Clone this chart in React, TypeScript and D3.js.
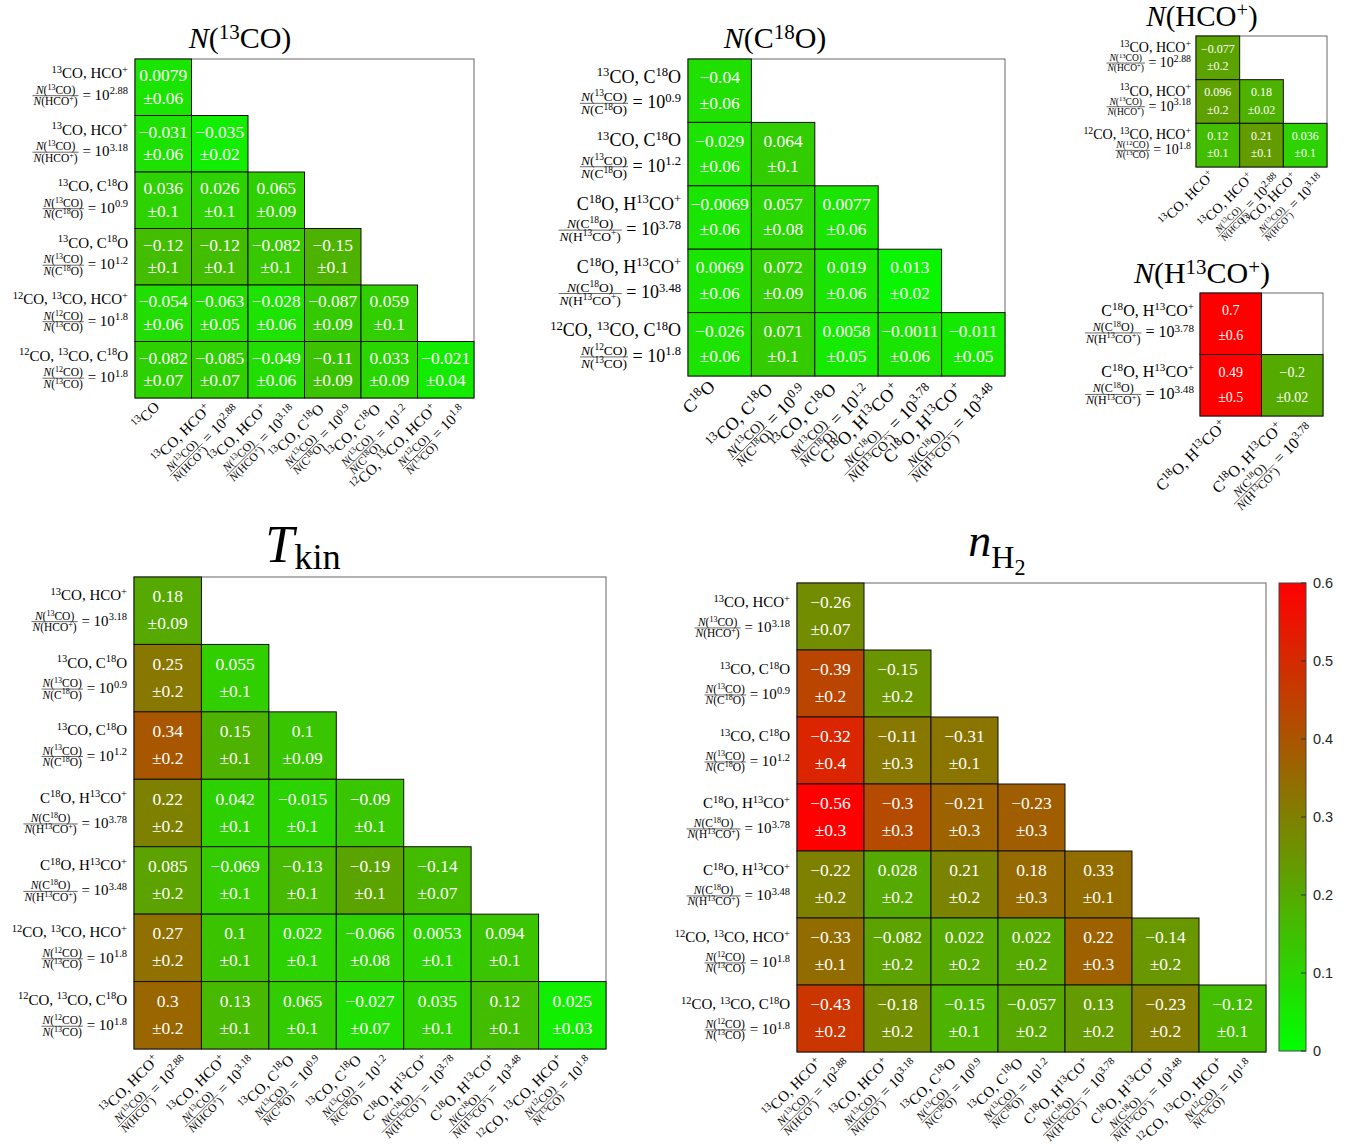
import React, { useEffect, useRef } from "react";
import * as d3 from "d3";

type Lab = { sp: string; num?: string; den?: string; exp?: string };

// ---------- axis labels ----------
const lab13co: Lab = { sp: "^{13}CO" };
const labC18o: Lab = { sp: "C^{18}O" };
const lab13coHco: Lab = { sp: "^{13}CO, HCO^{+}" };
const labC18oH13co: Lab = { sp: "C^{18}O, H^{13}CO^{+}" };
const lab13coHco288: Lab = { sp: "^{13}CO, HCO^{+}", num: "$N$(^{13}CO)", den: "$N$(HCO^{+})", exp: "2.88" };
const lab13coHco318: Lab = { sp: "^{13}CO, HCO^{+}", num: "$N$(^{13}CO)", den: "$N$(HCO^{+})", exp: "3.18" };
const lab13coC18o09: Lab = { sp: "^{13}CO, C^{18}O", num: "$N$(^{13}CO)", den: "$N$(C^{18}O)", exp: "0.9" };
const lab13coC18o12: Lab = { sp: "^{13}CO, C^{18}O", num: "$N$(^{13}CO)", den: "$N$(C^{18}O)", exp: "1.2" };
const labC18oH13co378: Lab = { sp: "C^{18}O, H^{13}CO^{+}", num: "$N$(C^{18}O)", den: "$N$(H^{13}CO^{+})", exp: "3.78" };
const labC18oH13co348: Lab = { sp: "C^{18}O, H^{13}CO^{+}", num: "$N$(C^{18}O)", den: "$N$(H^{13}CO^{+})", exp: "3.48" };
const lab12coHco18: Lab = { sp: "^{12}CO, ^{13}CO, HCO^{+}", num: "$N$(^{12}CO)", den: "$N$(^{13}CO)", exp: "1.8" };
const lab12coC18o18: Lab = { sp: "^{12}CO, ^{13}CO, C^{18}O", num: "$N$(^{12}CO)", den: "$N$(^{13}CO)", exp: "1.8" };

// ---------- N(13CO) ----------
const n13coRows = [lab13coHco288, lab13coHco318, lab13coC18o09, lab13coC18o12, lab12coHco18, lab12coC18o18];
const n13coCols = [lab13co, lab13coHco288, lab13coHco318, lab13coC18o09, lab13coC18o12, lab12coHco18];
const n13coValues = [
  [0.0079],
  [-0.031, -0.035],
  [0.036, 0.026, 0.065],
  [-0.12, -0.12, -0.082, -0.15],
  [-0.054, -0.063, -0.028, -0.087, 0.059],
  [-0.082, -0.085, -0.049, -0.11, 0.033, -0.021],
];
const n13coErrors = [
  [0.06],
  [0.06, 0.02],
  [0.1, 0.1, 0.09],
  [0.1, 0.1, 0.1, 0.1],
  [0.06, 0.05, 0.06, 0.09, 0.1],
  [0.07, 0.07, 0.06, 0.09, 0.09, 0.04],
];

// ---------- N(C18O) ----------
const nc18oRows = [lab13coC18o09, lab13coC18o12, labC18oH13co378, labC18oH13co348, lab12coC18o18];
const nc18oCols = [labC18o, lab13coC18o09, lab13coC18o12, labC18oH13co378, labC18oH13co348];
const nc18oValues = [
  [-0.04],
  [-0.029, 0.064],
  [-0.0069, 0.057, 0.0077],
  [0.0069, 0.072, 0.019, 0.013],
  [-0.026, 0.071, 0.0058, -0.0011, -0.011],
];
const nc18oErrors = [
  [0.06],
  [0.06, 0.1],
  [0.06, 0.08, 0.06],
  [0.06, 0.09, 0.06, 0.02],
  [0.06, 0.1, 0.05, 0.06, 0.05],
];

// ---------- N(HCO+) ----------
const nhcoRows = [lab13coHco288, lab13coHco318, lab12coHco18];
const nhcoCols = [lab13coHco, lab13coHco288, lab13coHco318];
const nhcoValues = [[-0.077], [0.096, 0.18], [0.12, 0.21, 0.036]];
const nhcoErrors = [[0.2], [0.2, 0.02], [0.1, 0.1, 0.1]];

// ---------- N(H13CO+) ----------
const nh13coRows = [labC18oH13co378, labC18oH13co348];
const nh13coCols = [labC18oH13co, labC18oH13co378];
const nh13coValues = [[0.7], [0.49, -0.2]];
const nh13coErrors = [[0.6], [0.5, 0.02]];

// ---------- Tkin & nH2 ----------
const physRows = [lab13coHco318, lab13coC18o09, lab13coC18o12, labC18oH13co378, labC18oH13co348, lab12coHco18, lab12coC18o18];
const physCols = [lab13coHco288, lab13coHco318, lab13coC18o09, lab13coC18o12, labC18oH13co378, labC18oH13co348, lab12coHco18];
const tkinValues = [
  [0.18],
  [0.25, 0.055],
  [0.34, 0.15, 0.1],
  [0.22, 0.042, -0.015, -0.09],
  [0.085, -0.069, -0.13, -0.19, -0.14],
  [0.27, 0.1, 0.022, -0.066, 0.0053, 0.094],
  [0.3, 0.13, 0.065, -0.027, 0.035, 0.12, 0.025],
];
const tkinErrors = [
  [0.09],
  [0.2, 0.1],
  [0.2, 0.1, 0.09],
  [0.2, 0.1, 0.1, 0.1],
  [0.2, 0.1, 0.1, 0.1, 0.07],
  [0.2, 0.1, 0.1, 0.08, 0.1, 0.1],
  [0.2, 0.1, 0.1, 0.07, 0.1, 0.1, 0.03],
];
const nh2Values = [
  [-0.26],
  [-0.39, -0.15],
  [-0.32, -0.11, -0.31],
  [-0.56, -0.3, -0.21, -0.23],
  [-0.22, 0.028, 0.21, 0.18, 0.33],
  [-0.33, -0.082, 0.022, 0.022, 0.22, -0.14],
  [-0.43, -0.18, -0.15, -0.057, 0.13, -0.23, -0.12],
];
const nh2Errors = [
  [0.07],
  [0.2, 0.2],
  [0.4, 0.3, 0.1],
  [0.3, 0.3, 0.3, 0.3],
  [0.2, 0.2, 0.2, 0.3, 0.1],
  [0.1, 0.2, 0.2, 0.2, 0.3, 0.2],
  [0.2, 0.2, 0.1, 0.2, 0.2, 0.2, 0.1],
];

const colorbarTicks = [0, 0.1, 0.2, 0.3, 0.4, 0.5, 0.6];

// ---------- rendering helpers ----------
const SERIF = "'Liberation Serif', 'Times New Roman', serif";
const SANS = "'Liberation Sans', Arial, Helvetica, sans-serif";

const color = d3
  .scaleLinear<string>()
  .domain([0, 0.6])
  .range(["#00ff00", "#ff0000"])
  .interpolate(d3.interpolateRgb)
  .clamp(true);

type Seg = { t: string; s: number; it: boolean };
function parse(m: string): Seg[] {
  const out: Seg[] = [];
  let it = false;
  let buf = "";
  let i = 0;
  const flush = () => {
    if (buf) out.push({ t: buf, s: 0, it });
    buf = "";
  };
  while (i < m.length) {
    const c = m[i];
    if (c === "$") {
      flush();
      it = !it;
      i++;
      continue;
    }
    if ((c === "^" || c === "_") && m[i + 1] === "{") {
      flush();
      const j = m.indexOf("}", i + 2);
      out.push({ t: m.slice(i + 2, j), s: c === "^" ? 1 : -1, it: false });
      i = j + 1;
      continue;
    }
    buf += c;
    i++;
  }
  flush();
  return out;
}

function rich(t: any, markup: string, fs: number, supK = 0.36, subK = 0.2) {
  let cur = 0;
  t.style("white-space", "pre");
  for (const sg of parse(markup)) {
    const target = sg.s === 1 ? -supK * fs : sg.s === -1 ? subK * fs : 0;
    const ts = t.append("tspan").attr("font-size", sg.s ? fs * 0.7 : fs).text(sg.t);
    if (target !== cur) ts.attr("dy", target - cur);
    if (sg.it) ts.attr("font-style", "italic");
    cur = target;
  }
}

type Panel = {
  rows: Lab[];
  cols: Lab[];
  vals: number[][];
  errs: number[][];
  title: string;
  x0: number;
  y0: number;
  size: number;
  tx: number;
  ty: number;
  tfs: number;
  fs: number;
  fsS: number;
  fsV: number;
  l1: number;
  l2: number;
  gap: number;
  tsub?: number;
  custom?: boolean;
};

// draws the fraction line "N(a)/N(b) = 10^x" with its left edge at 0, baseline at 0; returns width
function fracLine(g: any, lab: Lab, fs: number, fsS: number): number {
  const num = g.append("text").attr("font-size", fsS).attr("text-anchor", "middle");
  rich(num, lab.num!, fsS);
  const den = g.append("text").attr("font-size", fsS).attr("text-anchor", "middle");
  rich(den, lab.den!, fsS);
  const wn = num.node().getComputedTextLength();
  const wd = den.node().getComputedTextLength();
  const fw = Math.max(wn, wd) + 2;
  const ax = 0.27 * fs;
  num.attr("x", fw / 2).attr("y", -ax - 2);
  den.attr("x", fw / 2).attr("y", -ax + fsS * 0.78 + 0.5);
  g.append("line")
    .attr("x1", 0)
    .attr("x2", fw)
    .attr("y1", -ax)
    .attr("y2", -ax)
    .attr("stroke", "#000")
    .attr("stroke-width", 0.6);
  const eqX = fw + 0.25 * fs;
  const eq = g.append("text").attr("x", eqX).attr("y", 0).attr("font-size", fs);
  rich(eq, "= 10^{" + lab.exp + "}", fs);
  return eqX + eq.node().getComputedTextLength();
}

function drawPanel(svg: any, p: Panel) {
  const n = p.rows.length;
  const idx = d3.range(n);
  const x = d3.scaleBand<number>().domain(idx).range([p.x0, p.x0 + p.size]);
  const y = d3.scaleBand<number>().domain(idx).range([p.y0, p.y0 + p.size]);
  const cs = x.bandwidth();
  const g = svg.append("g").attr("font-family", SERIF);

  g.append("rect")
    .attr("x", p.x0)
    .attr("y", p.y0)
    .attr("width", p.size)
    .attr("height", p.size)
    .attr("fill", "#fff")
    .attr("stroke", "#666")
    .attr("stroke-width", 1);

  p.vals.forEach((row, i) =>
    row.forEach((v, j) => {
      const e = p.errs[i][j];
      const cx = x(j)!;
      const cy = y(i)!;
      g.append("rect")
        .attr("x", cx)
        .attr("y", cy)
        .attr("width", cs)
        .attr("height", cs)
        .attr("fill", color(Math.hypot(v, e)))
        .attr("stroke", "#111")
        .attr("stroke-width", 1);
      g.append("text")
        .attr("x", cx + cs / 2)
        .attr("y", cy + 0.29 * cs + 0.33 * p.fsV)
        .attr("text-anchor", "middle")
        .attr("font-size", p.fsV)
        .attr("fill", "#fff")
        .text((v < 0 ? "\u2212" : "") + String(Math.abs(v)));
      g.append("text")
        .attr("x", cx + cs / 2)
        .attr("y", cy + 0.69 * cs + 0.33 * p.fsV)
        .attr("text-anchor", "middle")
        .attr("font-size", p.fsV)
        .attr("fill", "#fff")
        .text("\u00b1" + String(e));
    })
  );

  // row labels
  p.rows.forEach((lab, i) => {
    const cy = y(i)! + cs / 2;
    const t = g
      .append("text")
      .attr("x", p.x0 - p.gap)
      .attr("y", cy + p.l1)
      .attr("text-anchor", "end")
      .attr("font-size", p.fs);
    rich(t, lab.sp, p.fs);
    const lg = g.append("g");
    const w = fracLine(lg, lab, p.fs, p.fsS);
    lg.attr("transform", `translate(${p.x0 - p.gap - w},${cy + p.l2})`);
  });

  // column labels (rotated)
  const k = p.fs / 15;
  const bottom = p.y0 + p.size;
  p.cols.forEach((lab, j) => {
    const cx = x(j)! + cs / 2;
    const cg = g.append("g").attr("transform", `translate(${cx},${bottom}) rotate(-45)`);
    if (!lab.num) {
      const t = cg
        .append("text")
        .attr("x", -9 * k)
        .attr("y", 5 * k)
        .attr("text-anchor", "end")
        .attr("font-size", p.fs);
      rich(t, lab.sp, p.fs);
    } else {
      const t = cg
        .append("text")
        .attr("x", -14 * k)
        .attr("y", 3 * k)
        .attr("text-anchor", "end")
        .attr("font-size", p.fs);
      rich(t, lab.sp, p.fs);
      const lg = cg.append("g");
      const w = fracLine(lg, lab, p.fs, p.fsS);
      lg.attr("transform", `translate(${5 * k - w},${24 * k})`);
    }
  });

  // title
  if (p.custom) {
    const t = g
      .append("text")
      .attr("x", p.tx)
      .attr("y", p.ty)
      .attr("text-anchor", "middle")
      .attr("font-size", p.tfs);
    t.append("tspan").attr("font-style", "italic").text("n");
    t.append("tspan").attr("font-size", p.tfs * 0.7).attr("dy", 0.26 * p.tfs).text("H");
    t.append("tspan").attr("font-size", p.tfs * 0.48).attr("dy", 0.15 * p.tfs).text("2");
  } else {
    const t = g
      .append("text")
      .attr("x", p.tx)
      .attr("y", p.ty)
      .attr("text-anchor", "middle")
      .attr("font-size", p.tfs);
    rich(t, p.title, p.tfs, 0.3, p.tsub ?? 0.2);
  }
}

function drawColorbar(svg: any) {
  const x0 = 1279;
  const w = 27;
  const yScale = d3.scaleLinear().domain([0, 0.6]).range([1051, 583]);
  const defs = svg.append("defs");
  const grad = defs
    .append("linearGradient")
    .attr("id", "cbgrad")
    .attr("x1", 0)
    .attr("y1", 1)
    .attr("x2", 0)
    .attr("y2", 0);
  d3.range(0, 1.0001, 0.1).forEach((f) => {
    grad.append("stop").attr("offset", f).attr("stop-color", color(f * 0.6));
  });
  const g = svg.append("g");
  g.append("rect")
    .attr("x", x0)
    .attr("y", yScale(0.6))
    .attr("width", w)
    .attr("height", yScale(0) - yScale(0.6))
    .attr("fill", "url(#cbgrad)")
    .attr("stroke", "#444")
    .attr("stroke-width", 1);
  colorbarTicks.forEach((t) => {
    const yy = yScale(t);
    g.append("line")
      .attr("x1", x0 + w - 5)
      .attr("x2", x0 + w)
      .attr("y1", yy)
      .attr("y2", yy)
      .attr("stroke", "#333")
      .attr("stroke-width", 1);
    g.append("text")
      .attr("x", x0 + w + 7)
      .attr("y", yy + 5)
      .attr("font-family", SANS)
      .attr("font-size", 14.5)
      .attr("fill", "#262626")
      .text(String(t));
  });
}

const panels: Panel[] = [
  { rows: n13coRows, cols: n13coCols, vals: n13coValues, errs: n13coErrors, title: "$N$(^{13}CO)",
    x0: 135, y0: 59, size: 339, tx: 240, ty: 48, tfs: 30, fs: 15, fsS: 11.5, fsV: 17.5, l1: -9, l2: 12.5, gap: 7 },
  { rows: nc18oRows, cols: nc18oCols, vals: nc18oValues, errs: nc18oErrors, title: "$N$(C^{18}O)",
    x0: 688, y0: 59, size: 317, tx: 775, ty: 48, tfs: 30, fs: 18, fsS: 13.5, fsV: 17.5, l1: -8, l2: 17.5, gap: 7 },
  { rows: nhcoRows, cols: nhcoCols, vals: nhcoValues, errs: nhcoErrors, title: "$N$(HCO^{+})",
    x0: 1196, y0: 36, size: 131, tx: 1202, ty: 26, tfs: 29, fs: 14, fsS: 9.5, fsV: 12, l1: -6, l2: 9, gap: 5 },
  { rows: nh13coRows, cols: nh13coCols, vals: nh13coValues, errs: nh13coErrors, title: "$N$(H^{13}CO^{+})",
    x0: 1200, y0: 293, size: 123, tx: 1202, ty: 283, tfs: 30, fs: 16, fsS: 12, fsV: 14, l1: -8, l2: 13.5, gap: 6 },
  { rows: physRows, cols: physCols, vals: tkinValues, errs: tkinErrors, title: "$T$_{kin}",
    x0: 134, y0: 577, size: 472, tx: 303, ty: 562, tfs: 52, fs: 15, fsS: 11.5, fsV: 17.5, l1: -10.5, l2: 15, gap: 7, tsub: 0.135 },
  { rows: physRows, cols: physCols, vals: nh2Values, errs: nh2Errors, title: "nH2",
    x0: 797, y0: 583, size: 469, tx: 997, ty: 556, tfs: 46, fs: 15, fsS: 11.5, fsV: 17.5, l1: -9.5, l2: 15.5, gap: 7, custom: true },
];

export default function App() {
  const ref = useRef<SVGSVGElement>(null);
  useEffect(() => {
    const svg = d3.select(ref.current);
    svg.selectAll("*").remove();
    panels.forEach((p) => drawPanel(svg, p));
    drawColorbar(svg);
  }, []);
  return (
    <svg
      ref={ref}
      width={1358}
      height={1144}
      style={{ position: "absolute", left: 0, top: 0, background: "#fff" }}
    />
  );
}
